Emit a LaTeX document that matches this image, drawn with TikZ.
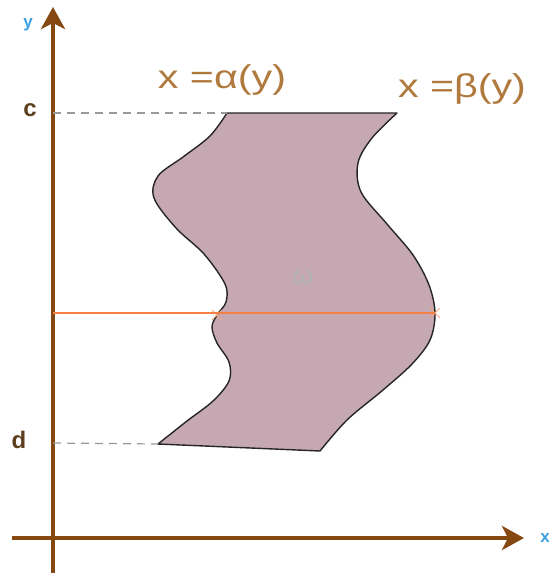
\documentclass[tikz,border=0pt]{standalone}
\usepackage{fontspec}
\setmainfont{Liberation Sans}
\usetikzlibrary{arrows.meta,positioning,shapes.misc}
\definecolor{rust}{RGB}{133,72,16}
\definecolor{mauve}{RGB}{198,168,178}
\definecolor{tangerine}{RGB}{245,128,70}
\definecolor{sand}{RGB}{176,122,62}
\definecolor{umber}{RGB}{92,64,30}
\definecolor{sky}{RGB}{60,160,225}

\begin{document}
\begin{tikzpicture}[x=1pt,y=-1pt,
    axis/.style={draw=rust,line width=4pt,-{Stealth[length=22pt,width=24pt,inset=6pt]}},
    guide/.style={draw=gray!80,line width=1.2pt,dash pattern=on 8pt off 6pt},
    curvelabel/.style={text=sand,font=\fontsize{33}{38}\selectfont,xscale=1.25},
    endlabel/.style={text=umber,font=\fontsize{24}{28}\selectfont\bfseries},
    axislabel/.style={text=sky,font=\fontsize{17}{20}\selectfont\bfseries},
    hit/.style={cross out,draw=tangerine!70,line width=0.8pt,minimum size=9pt,inner sep=0pt}]
  \useasboundingbox (0,0) rectangle (551,581);
  % axes
  \coordinate (ybot) at (53,573);
  \coordinate (ytop) at (53,7);
  \coordinate (xleft) at (12,538);
  \coordinate (xright) at (524,538);
  \draw[axis] (ybot) -- (ytop);
  \draw[axis] (xleft) -- (xright);
  \node[axislabel] (ylab) at (28,25) {y};
  \node[axislabel] (xlab) at (545,538) {x};
  % region between the two curves
  \draw[fill=mauve,draw=black!85,line width=1.4pt,line join=round]
    plot[smooth,tension=0.55] coordinates {(397,113) (372,138) (358,163) (361,192) (387,224)
      (413,255) (429,285) (435,313) (430,340) (412,364) (383,390) (347,420) (320,451)}
    -- plot[smooth,tension=0.55] coordinates {(158,444) (187,421) (213,401) (229,381) (229,362)
      (217,343) (212,327) (217,315) (226,302) (225,284) (204,254) (176,228) (154,198)
      (158,176) (183,157) (210,136) (227,113)}
    -- cycle;
  \node[text=black!30,font=\fontsize{26}{28}\selectfont] (omega) at (303,278) {ω};
  % level lines
  \coordinate (c) at (53,113);
  \coordinate (d) at (53,443);
  \coordinate (ctop) at (227,113);
  \coordinate (dbot) at (158,444);
  \draw[guide] (c) -- (ctop);
  \draw[guide] (d) -- (dbot);
  \node[endlabel] (clab) at (30,110) {c};
  \node[endlabel] (dlab) at (19,440) {d};
  % horizontal slice
  \coordinate (s) at (53,313);
  \node[hit] (a) at (217,315) {};
  \node[hit] (b) at (435,313) {};
  \draw[tangerine,line width=1.8pt] (s) -- (b.center);
  \node[curvelabel] (alpha) at (222,80) {x =α(y)};
  \node[curvelabel] (beta) at (462,89) {x =β(y)};
\end{tikzpicture}
\end{document}
